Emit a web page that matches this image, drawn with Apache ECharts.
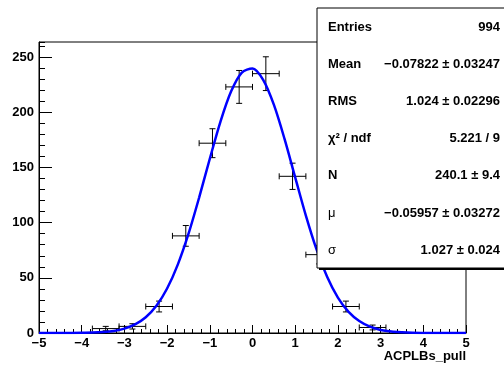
<!DOCTYPE html>
<html>
<head>
<meta charset="utf-8">
<script src="https://cdn.jsdelivr.net/npm/echarts@6/dist/echarts.min.js"></script>
<style>
  html, body { margin: 0; padding: 0; background: #fff; }
  #main { width: 504px; height: 369px; }
</style>
</head>
<body>
<div id="main"></div>
<script>
// histogram bins (ACPLBs_pull), bin width 0.625
const binCenters = [-3.4375, -2.8125, -2.1875, -1.5625, -0.9375, -0.3125, 0.3125, 0.9375, 1.5625, 2.1875, 2.8125];
const binCounts = [4, 6, 24, 88, 172, 223, 235, 142, 71, 24, 5];
const binErrors = [2.0, 2.4, 4.9, 9.4, 13.1, 14.9, 15.3, 11.9, 8.4, 4.9, 2.2];
const binHalfWidth = 0.3125;

// gaussian fit curve
const fitX = [-5, -4.5, -4, -3.75, -3.5, -3.25, -3, -2.75, -2.5, -2.25, -2, -1.75, -1.5, -1.25, -1, -0.75, -0.5, -0.25, 0,
  0.25, 0.5, 0.75, 1, 1.25, 1.5, 1.75, 2, 2.25, 2.5, 2.75, 3, 3.25, 3.5, 3.75, 4, 4.5, 5];
const fitY = [0, 0, 0.2, 0.4, 0.9, 1.9, 4.0, 7.8, 14.3, 24.7, 40.3, 62.0, 89.8, 122.7, 157.9, 191.6, 219.0, 236.0, 239.7,
  229.4, 206.9, 175.9, 141.0, 106.4, 75.7, 50.8, 32.1, 19.1, 10.8, 5.7, 2.8, 1.3, 0.6, 0.2, 0.1, 0, 0];

const statRows = [
  ['Entries', '994'],
  ['Mean', '\u22120.07822 \u00b1 0.03247'],
  ['RMS', '1.024 \u00b1 0.02296'],
  ['\u03c7\u00b2 / ndf', '5.221 / 9'],
  ['N', '240.1 \u00b1 9.4'],
  ['\u03bc', '\u22120.05957 \u00b1 0.03272'],
  ['\u03c3', '1.027 \u00b1 0.024']
];

const chart = echarts.init(document.getElementById('main'));
const font = 'Liberation Sans, Arial, Helvetica, sans-serif';
const yMax = 263.7;

const errData = binCenters.map((x, i) => [x, binCounts[i], binErrors[i]]);

function renderErr(params, api) {
  const x = api.value(0), y = api.value(1), e = api.value(2);
  const pL = api.coord([x - binHalfWidth, y]);
  const pR = api.coord([x + binHalfWidth, y]);
  const pT = api.coord([x, y + e]);
  const pB = api.coord([x, y - e]);
  const c = 3;
  const st = { stroke: '#000', lineWidth: 1 };
  const seg = (x1, y1, x2, y2) => ({ type: 'line', shape: { x1, y1, x2, y2 }, style: st });
  return {
    type: 'group',
    children: [
      seg(pL[0], pL[1], pR[0], pR[1]),
      seg(pL[0], pL[1] - c, pL[0], pL[1] + c),
      seg(pR[0], pR[1] - c, pR[0], pR[1] + c),
      seg(pT[0], pT[1], pB[0], pB[1]),
      seg(pT[0] - c, pT[1], pT[0] + c, pT[1]),
      seg(pB[0] - c, pB[1], pB[0] + c, pB[1])
    ]
  };
}

const boxLeft = 317, boxTop = 8, boxBottom = 268, boxRight = 510;
const graphics = [
  { type: 'rect', z: 100, shape: { x: boxLeft + 2, y: boxTop + 2, width: boxRight - boxLeft, height: boxBottom - boxTop },
    style: { fill: '#000' } },
  { type: 'rect', z: 101, shape: { x: boxLeft, y: boxTop, width: boxRight - boxLeft, height: boxBottom - boxTop },
    style: { fill: '#fff', stroke: '#000', lineWidth: 1 } },
  { type: 'text', z: 102, style: { x: 466, y: 356, text: 'ACPLBs_pull', fill: '#000',
      font: 'bold 13px ' + font, textAlign: 'right', textVerticalAlign: 'middle' } }
];
statRows.forEach((r, i) => {
  const y = 27 + i * 37.2;
  graphics.push({ type: 'text', z: 102, style: { x: 328, y: y, text: r[0], fill: '#000',
    font: (i >= 5 ? '' : 'bold ') + '13px ' + font, textVerticalAlign: 'middle' } });
  graphics.push({ type: 'text', z: 102, style: { x: 500, y: y, text: r[1], fill: '#000',
    font: 'bold 13px ' + font, textAlign: 'right', textVerticalAlign: 'middle' } });
});

const minus = v => String(v).replace('-', '\u2212');

chart.setOption({
  animation: false,
  backgroundColor: '#fff',
  grid: { left: 39, right: 38, top: 42, bottom: 36, show: true, borderColor: '#000', borderWidth: 1, backgroundColor: 'transparent' },
  xAxis: {
    type: 'value', min: -5, max: 5, interval: 1,
    axisLine: { onZero: false, lineStyle: { color: '#000', width: 1 } },
    axisTick: { inside: true, length: 8, lineStyle: { color: '#000' } },
    minorTick: { show: true, splitNumber: 5, length: 4, lineStyle: { color: '#000' } },
    splitLine: { show: false },
    axisLabel: { color: '#000', fontFamily: font, fontWeight: 'bold', fontSize: 13, margin: 4, formatter: minus }
  },
  yAxis: [{
    type: 'value', min: 0, max: yMax, interval: 50,
    axisLine: { show: true, onZero: false, lineStyle: { color: '#000', width: 1 } },
    axisTick: { show: true, inside: true, length: 13, lineStyle: { color: '#000' } },
    splitLine: { show: false },
    axisLabel: { color: '#000', fontFamily: font, fontWeight: 'bold', fontSize: 13, margin: 5, showMaxLabel: false,
      formatter: v => (v % 50 === 0 ? String(v) : '') }
  }, {
    type: 'value', min: 0, max: yMax, interval: 10, position: 'left',
    axisLine: { show: false, onZero: false },
    axisTick: { show: true, inside: true, length: 6, lineStyle: { color: '#000' } },
    splitLine: { show: false },
    axisLabel: { show: false }
  }],
  series: [{
    type: 'custom',
    renderItem: renderErr,
    data: errData,
    encode: { x: 0, y: 1 },
    z: 3
  }, {
    type: 'line',
    data: fitX.map((x, i) => [x, fitY[i]]),
    smooth: 0.3,
    showSymbol: false,
    lineStyle: { color: '#0000ff', width: 2.5 },
    z: 4
  }],
  graphic: graphics
});
</script>
</body>
</html>
